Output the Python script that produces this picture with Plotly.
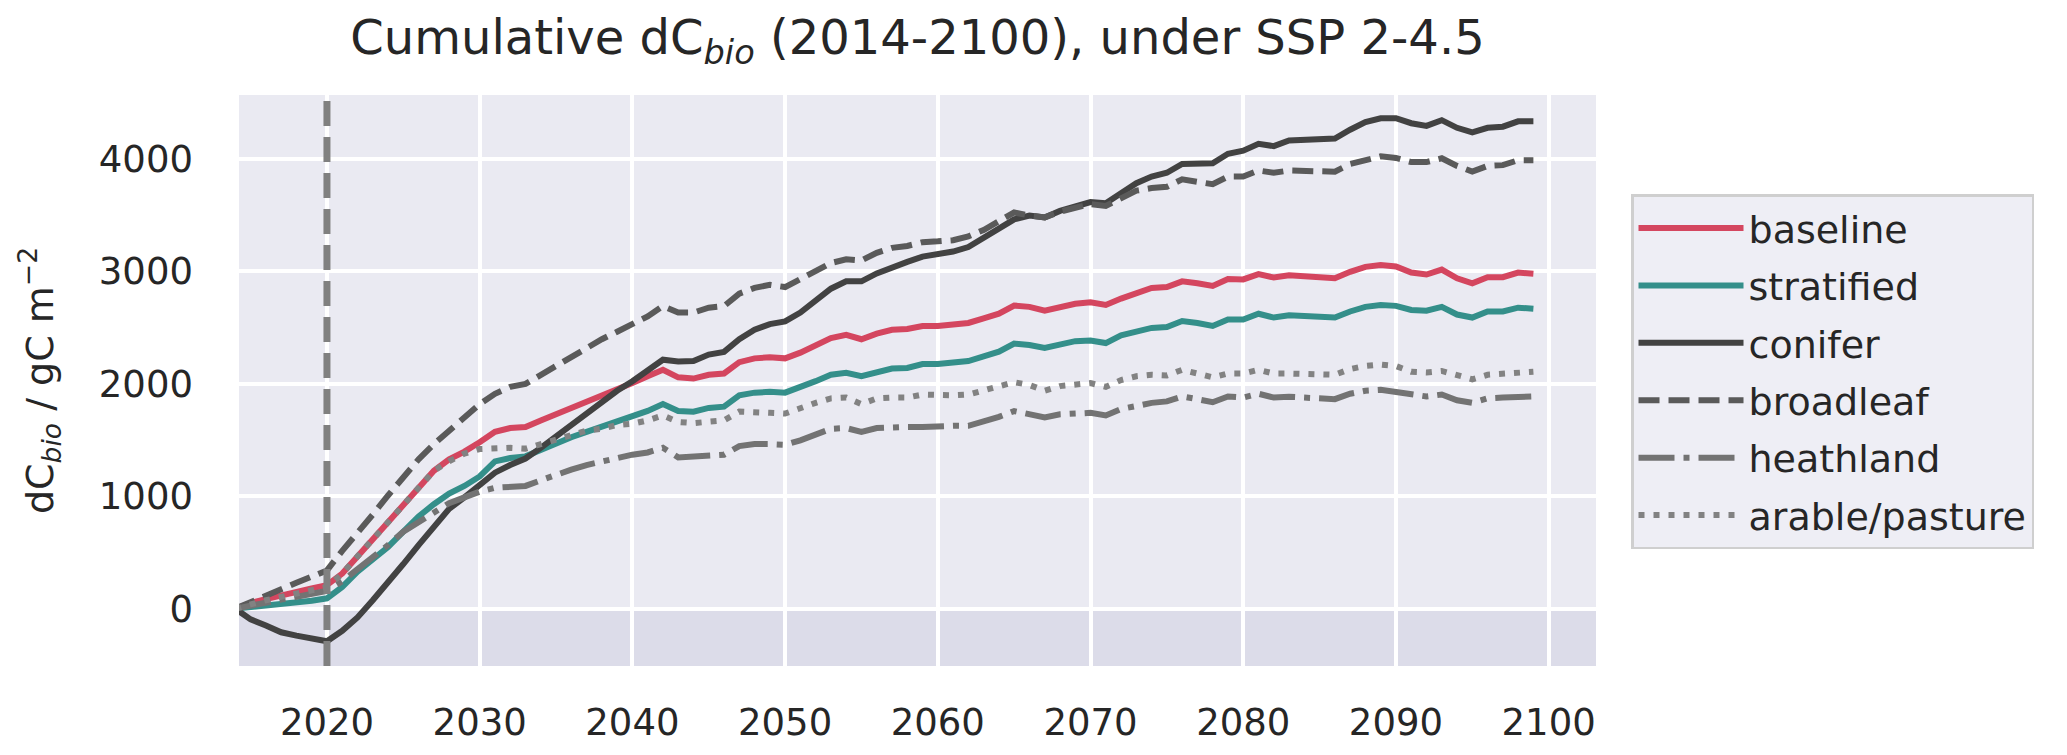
import plotly.graph_objects as go

years = list(range(2014, 2100))

baseline = [0, 50, 85, 120, 150, 180, 210,
            312, 464, 617, 786, 939, 1092, 1227, 1329, 1397, 1481,
            1573, 1607, 1617, 1675, 1729, 1786, 1837, 1895, 1949, 2007,
            2068, 2125, 2058, 2047, 2081, 2092, 2193, 2227, 2237, 2227,
            2278, 2346, 2407, 2437, 2397, 2447, 2481, 2488, 2515, 2515,
            2522, 2542, 2583, 2625, 2697, 2685, 2651, 2685, 2712, 2725,
            2702, 2759, 2810, 2854, 2861, 2912, 2895, 2871, 2932, 2929,
            2976, 2946, 2966, 2956, 2956, 2939, 2997, 3041, 3058, 3045,
            2990, 2973, 3017, 2939, 2895, 2949, 2949, 2990, 2980]

stratified = [0, 12, 22, 35, 52, 70, 92,
              193, 329, 431, 549, 685, 820, 929, 1024, 1092, 1176,
              1310, 1340, 1355, 1414, 1471, 1525, 1573, 1617, 1661, 1719,
              1759, 1820, 1759, 1753, 1786, 1797, 1898, 1922, 1929, 1922,
              1966, 2024, 2081, 2098, 2068, 2108, 2136, 2142, 2176, 2176,
              2183, 2203, 2244, 2287, 2358, 2346, 2319, 2353, 2380, 2386,
              2363, 2431, 2464, 2498, 2505, 2559, 2542, 2515, 2573, 2573,
              2624, 2590, 2610, 2603, 2603, 2590, 2644, 2685, 2702, 2694,
              2658, 2651, 2685, 2617, 2590, 2644, 2644, 2678, 2668]

conifer = [0, -95, -150, -210, -240, -265, -290,
           -197, -78, 75, 227, 397, 566, 736, 888, 990, 1092,
           1210, 1278, 1336, 1430, 1532, 1634, 1736, 1837, 1939, 2024,
           2120, 2215, 2200, 2203, 2261, 2285, 2397, 2481, 2532, 2556,
           2634, 2746, 2847, 2912, 2912, 2983, 3041, 3085, 3132, 3153,
           3177, 3217, 3300, 3380, 3464, 3498, 3481, 3539, 3583, 3617,
           3607, 3702, 3786, 3844, 3878, 3956, 3963, 3963, 4047, 4075,
           4136, 4115, 4166, 4169, 4183, 4183, 4261, 4329, 4363, 4363,
           4319, 4295, 4346, 4278, 4237, 4278, 4288, 4336, 4336]

broadleaf = [0, 60, 120, 175, 230, 285, 340,
             515, 668, 837, 1007, 1176, 1329, 1464, 1583, 1702, 1820,
             1912, 1973, 2000, 2081, 2169, 2244, 2319, 2397, 2464, 2530,
             2600, 2692, 2634, 2634, 2678, 2692, 2803, 2854, 2881, 2861,
             2929, 3007, 3075, 3108, 3098, 3166, 3210, 3227, 3261, 3268,
             3278, 3312, 3369, 3447, 3525, 3498, 3481, 3532, 3566, 3600,
             3583, 3651, 3719, 3742, 3753, 3820, 3803, 3776, 3844, 3844,
             3898, 3878, 3898, 3898, 3895, 3888, 3956, 3997, 4024, 4010,
             3973, 3973, 4007, 3939, 3888, 3939, 3946, 3990, 3990]

heathland = [0, 30, 55, 80, 105, 130, 159,
             244, 346, 464, 566, 685, 769, 854, 939, 990, 1041,
             1075, 1085, 1092, 1142, 1193, 1237, 1278, 1312, 1346, 1370,
             1390, 1431, 1346, 1356, 1369, 1369, 1447, 1464, 1464, 1458,
             1498, 1549, 1600, 1607, 1573, 1607, 1617, 1617, 1617, 1627,
             1627, 1627, 1661, 1707, 1758, 1729, 1702, 1729, 1742, 1742,
             1719, 1776, 1803, 1831, 1844, 1888, 1864, 1837, 1888, 1878,
             1912, 1878, 1885, 1878, 1871, 1864, 1912, 1939, 1947, 1930,
             1905, 1888, 1905, 1854, 1831, 1871, 1878, 1888, 1888]

arable = [0, 40, 75, 105, 135, 165, 193,
          312, 464, 617, 786, 939, 1092, 1227, 1312, 1380, 1420,
          1431, 1431, 1424, 1464, 1515, 1549, 1583, 1600, 1634, 1645,
          1675, 1719, 1661, 1651, 1668, 1675, 1753, 1753, 1742, 1736,
          1786, 1831, 1871, 1878, 1820, 1871, 1878, 1878, 1905, 1895,
          1898, 1905, 1939, 1973, 2015, 1990, 1939, 1980, 2000, 2007,
          1973, 2034, 2068, 2081, 2075, 2125, 2092, 2058, 2092, 2092,
          2125, 2092, 2092, 2092, 2092, 2081, 2132, 2159, 2172, 2159,
          2108, 2102, 2115, 2075, 2041, 2081, 2092, 2102, 2108]

series_names = ["baseline", "stratified", "conifer", "broadleaf", "heathland", "arable/pasture"]
series_values = [baseline, stratified, conifer, broadleaf, heathland, arable]
series_colors = ["#d4465f", "#348f8a", "#424242", "#5a5a5a", "#737373", "#828282"]
series_dash = ["solid", "solid", "solid", "21px,9px", "36px,9px,6px,9px", "6px,9px"]

x_ticks = [2020, 2030, 2040, 2050, 2060, 2070, 2080, 2090, 2100]
y_ticks = [0, 1000, 2000, 3000, 4000]
event_year = 2020

FONT = "DejaVu Sans"
TXT = "#262626"

fig = go.Figure()
for i, (name, vals, col, dash) in enumerate(zip(series_names, series_values, series_colors, series_dash)):
    fig.add_trace(go.Scatter(x=years, y=vals, mode="lines", name=name,
                             legendgroup=f"g{i}",
                             line=dict(color=col, width=6, dash=dash)))

fig.add_shape(type="rect", xref="paper", yref="y", x0=0, x1=1, y0=-600, y1=0,
              fillcolor="#dcdce9", line=dict(width=0), layer="below")
fig.add_shape(type="line", xref="x", yref="paper", x0=event_year, x1=event_year, y0=0, y1=1,
              line=dict(color="#808080", width=7, dash="25px,11px"), layer="above")

fig.update_layout(
    width=2067, height=755,
    margin=dict(l=231, r=479, t=87, b=97, autoexpand=False),
    paper_bgcolor="white", plot_bgcolor="#eaeaf2",
    font=dict(family=FONT, color=TXT, size=37),
    title=dict(text="Cumulative dC<sub><i>bio</i></sub> (2014-2100), under SSP 2-4.5",
               font=dict(size=48, family=FONT, color=TXT),
               x=0.5, xref="paper", xanchor="center",
               y=1 - 29 / 755, yref="container", yanchor="middle"),
    xaxis=dict(range=[2014.24, 2103.1], tickvals=x_ticks, showgrid=True,
               gridcolor="white", gridwidth=3.5, zeroline=False, showline=False,
               ticks="", ticklabelstandoff=31, tickfont=dict(size=37)),
    yaxis=dict(range=[-510, 4570], tickvals=y_ticks, showgrid=True,
               gridcolor="white", gridwidth=3.5, zeroline=False, showline=False,
               ticks="", ticklabelstandoff=45, tickfont=dict(size=37),
               title=dict(text="dC<sub><i>bio</i></sub> / gC m<sup>\u22122</sup>",
                          font=dict(size=38), standoff=33)),
    legend=dict(x=1.0258, y=0.826, xanchor="left", yanchor="top",
                bgcolor="#eeeef5", bordercolor="#cfcfcf", borderwidth=2.5,
                font=dict(size=38, color=TXT), itemwidth=105,
                traceorder="grouped", tracegroupgap=5),
    showlegend=True,
)

fig.write_html("out.html")
